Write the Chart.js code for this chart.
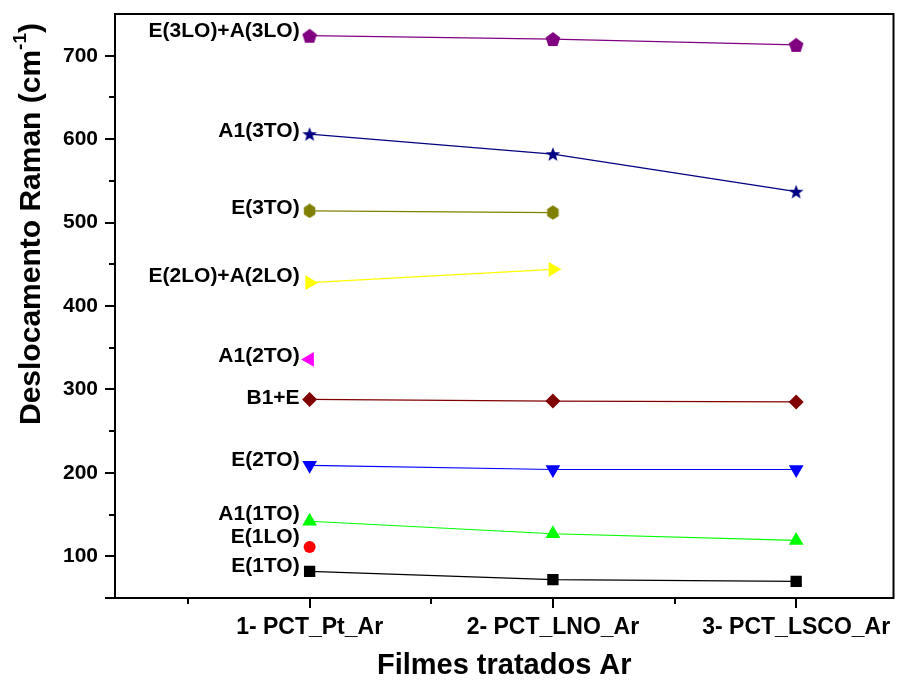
<!DOCTYPE html>
<html><head><meta charset="utf-8">
<script src="https://cdn.jsdelivr.net/npm/chart.js@4.4.1/dist/chart.umd.min.js"></script>
<style>html,body{margin:0;padding:0;background:#fff}#wrap{width:902px;height:680px}</style>
</head><body><div id="wrap"><canvas id="c" width="902" height="680"></canvas></div>
<script>
// ---- data ----
const categories = ["1- PCT_Pt_Ar", "2- PCT_LNO_Ar", "3- PCT_LSCO_Ar"];
const categoryPositions = [1, 2, 3];
const minorXTicks = [0.5, 1.5, 2.5];
const yMajorTicks = [100, 200, 300, 400, 500, 600, 700];
const yMinorTicks = [150, 250, 350, 450, 550, 650];
const seriesNames = ["E(3LO)+A(3LO)", "A1(3TO)", "E(3TO)", "E(2LO)+A(2LO)", "A1(2TO)", "B1+E", "E(2TO)", "A1(1TO)", "E(1LO)", "E(1TO)"];
const e3loA3lo = [724, 720, 713];
const a1_3to   = [606, 582, 537];
const e3to     = [514, 512, null];
const e2loA2lo = [428, 444, null];
const a1_2to   = [336, null, null];
const b1e      = [288, 286, 285];
const e2to     = [209, 204, 204];
const a1_1to   = [142, 127, 119];
const e1lo     = [111, null, null];
const e1to     = [82, 72, 70];
const seriesValues = [e3loA3lo, a1_3to, e3to, e2loA2lo, a1_2to, b1e, e2to, a1_1to, e1lo, e1to];

// ---- styles ----
const seriesColors = ["#800080", "#000080", "#808000", "#FFFF00", "#FF00FF", "#800000", "#0000FF", "#00FF00", "#FF0000", "#000000"];

function makeMarker(shape, color, size) {
  const cv = document.createElement('canvas');
  cv.width = size; cv.height = size;
  const g = cv.getContext('2d');
  const c = size / 2, R = size / 2 - 0.3;
  g.fillStyle = color;
  g.beginPath();
  if (shape === 'star') {
    for (let i = 0; i < 10; i++) {
      const r = i % 2 === 0 ? R : R * 0.42;
      const a = -Math.PI / 2 + i * Math.PI / 5;
      const px = c + r * Math.cos(a), py = c + 0.6 + r * Math.sin(a);
      i === 0 ? g.moveTo(px, py) : g.lineTo(px, py);
    }
  } else if (shape === 'pentagon') {
    for (let i = 0; i < 5; i++) {
      const a = -Math.PI / 2 + i * 2 * Math.PI / 5;
      const px = c + R * Math.cos(a), py = c + 0.8 + R * Math.sin(a);
      i === 0 ? g.moveTo(px, py) : g.lineTo(px, py);
    }
  } else if (shape === 'hexagon') {
    for (let i = 0; i < 6; i++) {
      const a = -Math.PI / 2 + i * Math.PI / 3;
      const px = c + R * 0.92 * Math.cos(a), py = c + R * Math.sin(a);
      i === 0 ? g.moveTo(px, py) : g.lineTo(px, py);
    }
  }
  g.closePath();
  g.fill();
  return cv;
}

const markerDefs = [
  {style: makeMarker('pentagon', '#800080', 16), radius: 8, rotation: 0},
  {style: makeMarker('star', '#000080', 16), radius: 8, rotation: 0},
  {style: makeMarker('hexagon', '#808000', 15), radius: 7.5, rotation: 0},
  {style: 'triangle', radius: 8.5, rotation: 90},
  {style: 'triangle', radius: 8.5, rotation: -90},
  {style: 'rectRot', radius: 7.5, rotation: 0},
  {style: 'triangle', radius: 8.5, rotation: 180},
  {style: 'triangle', radius: 8.5, rotation: 0},
  {style: 'circle', radius: 6, rotation: 0},
  {style: 'rect', radius: 8, rotation: 0}
];
const labelYOffsets = [-4, -3, -3, -6, -3, -1, -5, -7, -10, -5];

const datasets = seriesNames.map((name, i) => ({
  label: name,
  data: seriesValues[i].map((v, j) => ({x: categoryPositions[j], y: v})).filter(p => p.y !== null),
  borderColor: seriesColors[i],
  backgroundColor: seriesColors[i],
  borderWidth: 1.2,
  pointStyle: markerDefs[i].style,
  pointRadius: markerDefs[i].radius,
  pointRotation: markerDefs[i].rotation,
  pointBorderWidth: 0,
  pointBackgroundColor: seriesColors[i],
  tension: 0,
  showLine: true
}));

const FONT = "'Liberation Sans', Arial, sans-serif";

function zeroPad(s) { s.paddingTop = 0; s.paddingBottom = 0; s.paddingLeft = 0; s.paddingRight = 0; }

const decorPlugin = {
  id: 'decor',
  afterDraw(chart) {
    const ctx = chart.ctx;
    const a = chart.chartArea;
    const xs = chart.scales.x, ys = chart.scales.y;
    ctx.save();
    ctx.strokeStyle = '#000';
    ctx.lineWidth = 2;
    ctx.strokeRect(a.left, a.top, a.right - a.left, a.bottom - a.top);
    // y ticks
    ctx.beginPath();
    yMajorTicks.forEach(v => { const y = Math.round(ys.getPixelForValue(v)); ctx.moveTo(a.left - 10, y); ctx.lineTo(a.left, y); });
    yMinorTicks.forEach(v => { const y = Math.round(ys.getPixelForValue(v)); ctx.moveTo(a.left - 6, y); ctx.lineTo(a.left, y); });
    ctx.moveTo(a.left - 10, a.bottom); ctx.lineTo(a.left, a.bottom);
    // x ticks
    categoryPositions.forEach(v => { const x = Math.round(xs.getPixelForValue(v)); ctx.moveTo(x, a.bottom); ctx.lineTo(x, a.bottom + 10); });
    minorXTicks.forEach(v => { const x = Math.round(xs.getPixelForValue(v)); ctx.moveTo(x, a.bottom); ctx.lineTo(x, a.bottom + 6); });
    ctx.stroke();
    // series labels
    ctx.fillStyle = '#000';
    ctx.font = 'bold 21px ' + FONT;
    ctx.textAlign = 'right';
    ctx.textBaseline = 'middle';
    chart.data.datasets.forEach((ds, i) => {
      const meta = chart.getDatasetMeta(i);
      const p = meta.data[0];
      if (p) ctx.fillText(ds.label, p.x - 10, p.y + labelYOffsets[i]);
    });
    // y title with superscript
    ctx.translate(32, 224);
    ctx.rotate(-Math.PI / 2);
    ctx.textBaseline = 'middle';
    ctx.textAlign = 'left';
    const big = 'bold 30px ' + FONT, small = 'bold 19px ' + FONT;
    const part1 = 'Deslocamento Raman (cm', sup = '-1', part3 = ')';
    ctx.font = big; const w1 = ctx.measureText(part1).width; const w3 = ctx.measureText(part3).width;
    ctx.font = small; const w2 = ctx.measureText(sup).width;
    let x0 = -(w1 + w2 + w3) / 2;
    ctx.font = big; ctx.fillText(part1, x0, 0);
    ctx.font = small; ctx.fillText(sup, x0 + w1, -11);
    ctx.font = big; ctx.fillText(part3, x0 + w1 + w2, 0);
    ctx.restore();
  }
};

new Chart(document.getElementById('c'), {
  type: 'line',
  data: {datasets},
  options: {
    responsive: false,
    animation: false,
    layout: {padding: {top: 14, right: 2, left: 0, bottom: 0}},
    plugins: {legend: {display: false}, tooltip: {enabled: false}},
    scales: {
      x: {
        type: 'linear', min: 0.2, max: 3.4,
        afterBuildTicks(s) { s.ticks = categoryPositions.map(v => ({value: v})); },
        afterFit(s) { s.height = 82; zeroPad(s); },
        grid: {display: false, drawTicks: false},
        border: {display: false},
        ticks: {
          color: '#000', font: {family: FONT, weight: 'bold', size: 23}, padding: 16, maxRotation: 0,
          callback: (v, i) => categories[categoryPositions.indexOf(v)]
        },
        title: {display: true, text: 'Filmes tratados Ar', color: '#000', font: {family: FONT, weight: 'bold', size: 29}, padding: {top: 0, bottom: -3}}
      },
      y: {
        type: 'linear', min: 50, max: 750,
        afterBuildTicks(s) { s.ticks = yMajorTicks.map(v => ({value: v})); },
        afterFit(s) { s.width = 115; zeroPad(s); },
        grid: {display: false, drawTicks: false},
        border: {display: false},
        ticks: {color: '#000', font: {family: FONT, weight: 'bold', size: 21}, padding: 17}
      }
    }
  },
  plugins: [decorPlugin]
});
</script>
</body></html>
